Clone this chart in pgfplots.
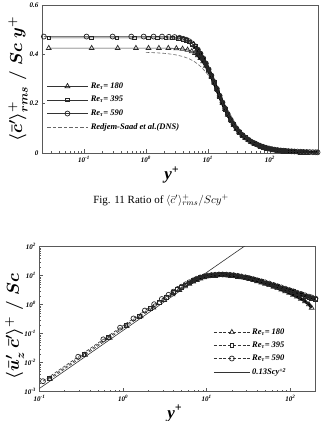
\documentclass[border=0pt]{standalone}
\usepackage{amsmath}
\usepackage{pgfplots}
\pgfplotsset{compat=1.18}
\usepackage{pgfplotstable}
\usepackage{fontspec}
\setmainfont{Liberation Serif}

% columns: y = y+, r = <c'>+_rms/(Sc y+), f = <u_z' c'>+/Sc
\pgfplotstableread{
y      r       f
0.0225 0.472   nan
0.11   0.472   0.0023
0.29   0.472   0.0160
0.58   0.472   0.0639
0.92   0.472   0.161
1.33   0.472   0.336
1.82   0.472   0.628
2.35   0.471   1.04
2.9    0.470   1.57
3.5    0.467   2.20
4.0    0.463   2.82
4.5    0.459   3.48
5.0    0.453   4.18
5.6    0.444   5.05
6.2    0.433   5.95
6.9    0.419   6.95
7.6    0.403   7.85
8.4    0.384   8.75
9.3    0.363   9.50
10.3   0.339   10.1
11.4   0.314   10.5
12.6   0.288   10.8
14     0.260   11.0
15.5   0.232   11.0
17.2   0.205   10.9
19     0.180   10.7
21     0.157   10.4
23.5   0.134   9.9
26     0.116   9.4
29     0.099   8.8
32     0.086   8.3
36     0.073   7.6
40     0.063   7.0
45     0.054   6.4
50     0.046   5.9
56     0.040   5.35
63     0.034   4.8
70     0.029   4.35
78     0.025   3.95
87     0.021   3.55
97     0.018   3.2
108    0.0155  2.9
120    0.0135  2.6
134    0.0118  2.35
150    0.0103  2.1
167    0.0092  1.9
180    0.0085  1.78
200    0.0077  1.63
225    0.0069  nan
250    0.0062  nan
280    0.0056  nan
315    0.0050  nan
350    0.0045  nan
395    0.0040  nan
440    0.0036  nan
495    0.0032  nan
550    0.0029  nan
590    0.0027  nan
}\tabFiveNinety

\pgfplotstableread{
y      r       f
0.027  0.467   nan
0.13   0.467   0.00287
0.34   0.467   0.0197
0.66   0.467   0.074
1.08   0.467   0.198
1.55   0.467   0.408
2.1    0.467   0.75
2.7    0.467   1.24
3.3    0.465   1.82
4.0    0.461   2.64
4.5    0.457   3.28
5.0    0.451   3.95
5.6    0.442   4.8
6.2    0.431   5.7
6.9    0.417   6.7
7.6    0.401   7.6
8.4    0.382   8.5
9.3    0.361   9.3
10.3   0.337   9.9
11.4   0.312   10.3
12.6   0.286   10.6
14     0.258   10.8
15.5   0.230   10.8
17.2   0.203   10.7
19     0.178   10.5
21     0.156   10.2
23.5   0.133   9.7
26     0.115   9.2
29     0.098   8.6
32     0.085   8.1
36     0.072   7.4
40     0.062   6.8
45     0.053   6.2
50     0.045   5.7
56     0.039   5.2
63     0.033   4.65
70     0.028   4.2
78     0.024   3.8
87     0.020   3.45
97     0.017   3.1
108    0.0145  2.8
120    0.0125  2.5
134    0.0108  2.25
150    0.0094  2.0
167    0.0083  1.8
180    0.0076  1.68
200    0.0068  1.55
225    0.0060  nan
250    0.0053  nan
280    0.0046  nan
315    0.0040  nan
350    0.0035  nan
395    0.0030  nan
}\tabThreeNinetyFive

\pgfplotstableread{
y      r       f
0.027  0.425   nan
0.133  0.425   0.00269
0.35   0.425   0.0186
0.69   0.425   0.0724
1.1    0.425   0.184
1.62   0.425   0.399
2.3    0.425   0.80
3.1    0.424   1.44
3.9    0.422   2.25
4.7    0.418   3.2
5.5    0.412   4.25
6.2    0.405   5.2
6.9    0.396   6.2
7.6    0.385   7.1
8.4    0.371   8.0
9.3    0.353   8.8
10.3   0.333   9.4
11.4   0.310   9.9
12.6   0.285   10.2
14     0.258   10.4
15.5   0.230   10.4
17.2   0.203   10.3
19     0.178   10.1
21     0.155   9.8
23.5   0.132   9.3
26     0.114   8.8
29     0.097   8.2
32     0.084   7.7
36     0.071   7.0
40     0.061   6.4
45     0.052   5.8
50     0.044   5.25
56     0.038   4.7
63     0.032   4.15
70     0.027   3.7
78     0.023   3.3
87     0.019   2.9
97     0.016   2.55
108    0.0135  2.2
120    0.0110  1.9
134    0.0088  1.6
150    0.0068  1.3
167    0.0052  1.02
180    0.0045  0.78
}\tabOneEighty

% Redjem-Saad et al. DNS profile
\pgfplotstableread{
y    r
1    0.408
1.5  0.406
2    0.404
2.5  0.401
3    0.398
4    0.391
5    0.382
6    0.371
7    0.359
8    0.346
10   0.318
12   0.290
15   0.248
20   0.186
25   0.140
30   0.108
40   0.068
50   0.047
70   0.027
100  0.016
150  0.009
200  0.006
}\tabDNS

\newcommand{\tl}[1]{10\textsuperscript{#1}}
\newcommand{\ret}[1]{Re\textsubscript{τ}= #1}

\pgfplotsset{
  figaxis/.style={
    scale only axis,
    tick align=inside, xtick pos=bottom, ytick pos=left,
    axis line style={black!65, line width=0.7pt},
    tick style={black!65, line width=0.5pt},
    major tick length=3.5pt, minor tick length=2pt,
    ticklabel style={font=\fontsize{7}{8}\selectfont\bfseries\itshape},
    xlabel style={font=\fontsize{17}{17}\selectfont\bfseries\itshape},
    ylabel style={font=\fontsize{18}{18}\selectfont},
    legend cell align=left,
    legend style={draw=none, fill=none, font=\fontsize{8.5}{9}\selectfont\bfseries\itshape, row sep=2.5pt, inner sep=0pt},
  },
  mk/.style={black!80, line width=0.6pt, mark options={solid, black!85, fill=none, line width=0.7pt}},
  % the closely spaced grid points far from the wall merge into a dark band
  band/.style={forget plot, black, line width=3pt, no marks, solid, line join=round},
}

\begin{document}
\begin{tikzpicture}
\path[use as bounding box] (0,0) rectangle (322pt,421pt);

% ---- ratio of rms concentration to Sc y+ ----
\begin{semilogxaxis}[figaxis,
  at={(42pt,268pt)}, anchor=south west, width=276pt, height=148pt,
  xmin=0.021, xmax=600, ymin=0, ymax=0.6,
  ytick={0,0.2,0.4,0.6}, yticklabels={0,0.2,0.4,0.6},
  xtick={0.1,1,10,100}, xticklabels={\tl{-1},\tl{0},\tl{1},\tl{2}},
  minor xtick={0.03,0.04,0.05,0.06,0.07,0.08,0.09,0.2,0.3,0.4,0.5,0.6,0.7,0.8,0.9,2,3,4,5,6,7,8,9,20,30,40,50,60,70,80,90,200,300,400,500},
  xlabel={y\textsuperscript{+}},
  xlabel style={at={(axis description cs:0.47,-0.15)}, anchor=center},
  ylabel={$\boldsymbol{\langle \bar{c}' \rangle^{+}_{rms}\;/\;Sc\;y^{+}}$},
  ylabel style={at={(axis description cs:-0.087,0.5)}, anchor=center},
  legend style={at={(0.018,0.49)}, anchor=north west},
  legend image code/.code={\draw[mark repeat=2, mark phase=2] plot coordinates {(0pt,0pt) (20pt,0pt) (41pt,0pt)};},
]
\addplot[black!60, line width=0.6pt, dash pattern=on 3.5pt off 2pt, forget plot] table[x=y, y=r] {\tabDNS};
\addplot[band] table[x=y, y=r, skip coords between index={0}{11}] {\tabOneEighty};
\addplot[band] table[x=y, y=r, skip coords between index={0}{13}] {\tabThreeNinetyFive};
\addplot[band] table[x=y, y=r, skip coords between index={0}{14}] {\tabFiveNinety};
\addplot[mk, mark=triangle, mark size=2.8pt] table[x=y, y=r] {\tabOneEighty};
\addlegendentry{\ret{180}}
\addplot[mk, mark=square, mark size=1.9pt] table[x=y, y=r] {\tabThreeNinetyFive};
\addlegendentry{\ret{395}}
\addplot[mk, mark=o, mark size=2.5pt] table[x=y, y=r] {\tabFiveNinety};
\addlegendentry{\ret{590}}
\addlegendimage{black!60, line width=0.6pt, dash pattern=on 3.5pt off 2pt}
\addlegendentry{Redjem-Saad et al.(DNS)}
\end{semilogxaxis}

\node[font=\fontsize{11}{13}\selectfont] at (161pt,221pt)
  {Fig. 11 Ratio of $\langle \bar{c}' \rangle^{+}_{rms}/Scy^{+}$};

% ---- turbulent concentration flux ----
\begin{loglogaxis}[figaxis,
  at={(39.5pt,29.3pt)}, anchor=south west, width=276pt, height=145pt,
  xmin=0.1, xmax=200, ymin=1e-3, ymax=100,
  xtick={0.1,1,10,100}, xticklabels={\tl{-1},\tl{0},\tl{1},\tl{2}},
  minor xtick={0.2,0.3,0.4,0.5,0.6,0.7,0.8,0.9,2,3,4,5,6,7,8,9,20,30,40,50,60,70,80,90},
  ytick={1e-3,1e-2,1e-1,1,10,100},
  yticklabels={\tl{-3},\tl{-2},\tl{-1},\tl{0},\tl{1},\tl{2}},
  minor ytick={},
  xlabel={y\textsuperscript{+}},
  xlabel style={at={(axis description cs:0.49,-0.15)}, anchor=center},
  ylabel={$\boldsymbol{\langle \bar{u}'_{z}\,\bar{c}' \rangle^{+}\;/\;Sc}$},
  ylabel style={at={(axis description cs:-0.09,0.45)}, anchor=center},
  legend style={at={(0.63,0.45)}, anchor=north west, row sep=2pt},
  legend image code/.code={\draw[mark repeat=2, mark phase=2] plot coordinates {(0pt,0pt) (18pt,0pt) (36pt,0pt)};},
]
\addplot[band, line width=2.7pt] table[x=y, y=f, skip coords between index={0}{11}] {\tabOneEighty};
\addplot[band, line width=2.7pt] table[x=y, y=f, skip coords between index={0}{13}] {\tabThreeNinetyFive};
\addplot[band, line width=2.7pt] table[x=y, y=f, skip coords between index={0}{14}] {\tabFiveNinety};
\addplot[mk, dash pattern=on 3pt off 1.8pt, mark=triangle, mark size=2.8pt] table[x=y, y=f] {\tabOneEighty};
\addlegendentry{\ret{180}}
\addplot[mk, dash pattern=on 3pt off 1.8pt, mark=square, mark size=1.9pt] table[x=y, y=f] {\tabThreeNinetyFive};
\addlegendentry{\ret{395}}
\addplot[mk, dash pattern=on 3pt off 1.8pt, mark=o, mark size=2.5pt] table[x=y, y=f] {\tabFiveNinety};
\addlegendentry{\ret{590}}
\addplot[black!80, line width=0.6pt] coordinates {(0.1,0.0013) (30,117)};
\addlegendentry{0.13Scy\textsuperscript{+2}}
\end{loglogaxis}
\end{tikzpicture}
\end{document}
